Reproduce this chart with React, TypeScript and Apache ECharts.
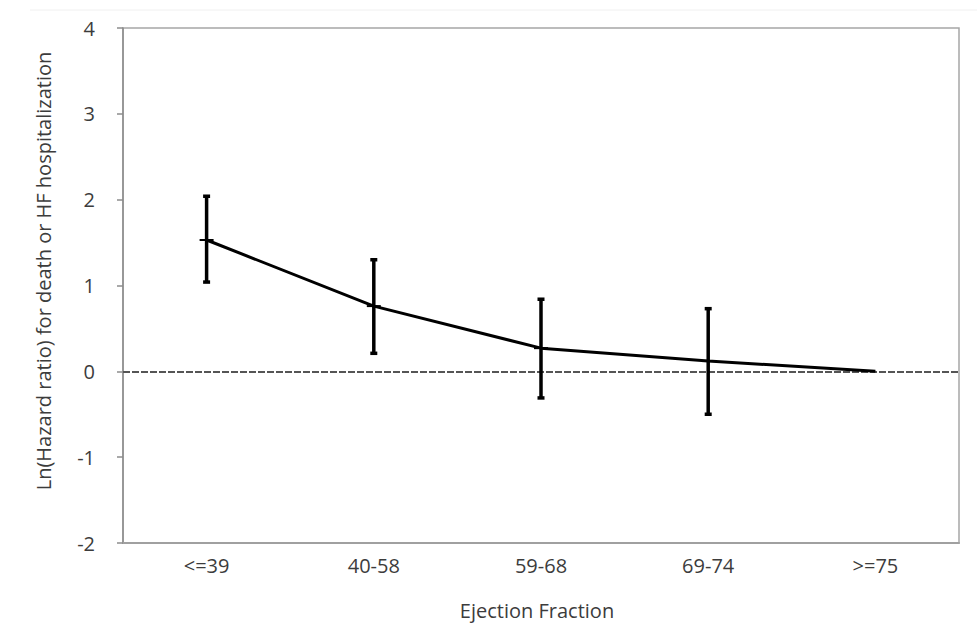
import React, { useEffect, useRef } from "react";
import * as echarts from "echarts";

const categories = ["<=39", "40-58", "59-68", "69-74", ">=75"];
const estimates = [1.53, 0.76, 0.27, 0.12, 0];
const lowerCI = [1.04, 0.21, -0.31, -0.5, null];
const upperCI = [2.04, 1.3, 0.84, 0.73, null];
const yTicks = { min: -2, max: 4, interval: 1 };
const xTitle = "Ejection Fraction";
const yTitle = "Ln(Hazard ratio) for death or HF hospitalization";

const FONT = "'Open Sans', 'DejaVu Sans', sans-serif";
const TEXT = "#3c3c3c";

export default function App() {
  const ref = useRef<HTMLDivElement>(null);
  useEffect(() => {
    if (!ref.current) return;
    const chart = echarts.init(ref.current, undefined, { renderer: "svg" });
    const errData = categories
      .map((c, i) => [i, lowerCI[i], upperCI[i]])
      .filter((d) => d[1] !== null && d[2] !== null);
    chart.setOption({
      animation: false,
      backgroundColor: "#ffffff",
      grid: {
        left: 123,
        right: 18,
        top: 28,
        bottom: 100,
        show: true,
        borderColor: "#a6a6a6",
        borderWidth: 1.5,
        containLabel: false,
      },
      graphic: [
        {
          type: "line",
          shape: { x1: 30, y1: 10, x2: 977, y2: 10 },
          style: { stroke: "#f0f0f0", lineWidth: 1 },
          silent: true,
        },
        {
          type: "text",
          x: 537,
          y: 610,
          style: {
            text: xTitle,
            fill: TEXT,
            font: `20px ${FONT}`,
            align: "center",
            verticalAlign: "middle",
          },
        },
        {
          type: "text",
          x: 43,
          y: 271,
          rotation: Math.PI / 2,
          style: {
            text: yTitle,
            fill: TEXT,
            font: `20px ${FONT}`,
            align: "center",
            verticalAlign: "middle",
          },
        },
      ],
      xAxis: {
        type: "category",
        data: categories,
        boundaryGap: true,
        axisLine: { show: true, onZero: false, lineStyle: { color: "#a0a0a0", width: 2 } },
        axisTick: { show: false },
        axisLabel: { color: TEXT, fontFamily: FONT, fontSize: 20, margin: 12 },
        splitLine: { show: false },
      },
      yAxis: {
        type: "value",
        min: yTicks.min,
        max: yTicks.max,
        interval: yTicks.interval,
        axisLine: { show: true, lineStyle: { color: "#8c8c8c", width: 1.5 } },
        axisTick: { show: true, inside: false, length: 6, lineStyle: { color: "#8c8c8c", width: 1.5 } },
        axisLabel: { color: TEXT, fontFamily: FONT, fontSize: 20, margin: 28 },
        splitLine: { show: false },
      },
      series: [
        {
          type: "line",
          data: estimates,
          symbol: "none",
          lineStyle: { color: "#000000", width: 3 },
          z: 4,
          markLine: {
            silent: true,
            symbol: "none",
            label: { show: false },
            lineStyle: { color: "#555555", width: 2, type: [7, 2] },
            data: [{ yAxis: 0 }],
            z: 2,
          },
        },
        {
          type: "custom",
          data: errData,
          z: 5,
          renderItem: (params: any, api: any) => {
            const x = api.value(0);
            const lo = api.coord([x, api.value(1)]);
            const hi = api.coord([x, api.value(2)]);
            const mid = api.coord([x, estimates[x]]);
            const cap = 3.5;
            const s = { stroke: "#000000", lineWidth: 3.5 };
            return {
              type: "group",
              children: [
                { type: "line", shape: { x1: lo[0], y1: lo[1], x2: hi[0], y2: hi[1] }, style: s },
                { type: "line", shape: { x1: lo[0] - cap, y1: lo[1], x2: lo[0] + cap, y2: lo[1] }, style: s },
                { type: "line", shape: { x1: hi[0] - cap, y1: hi[1], x2: hi[0] + cap, y2: hi[1] }, style: s },
                { type: "line", shape: { x1: mid[0] - 7, y1: mid[1], x2: mid[0] + 7, y2: mid[1] }, style: { stroke: "#000000", lineWidth: 2 } },
              ],
            };
          },
        },
      ],
    });
    return () => chart.dispose();
  }, []);
  return (
    <div
      ref={ref}
      style={{ position: "absolute", left: 0, top: 0, width: 977, height: 643 }}
    />
  );
}
